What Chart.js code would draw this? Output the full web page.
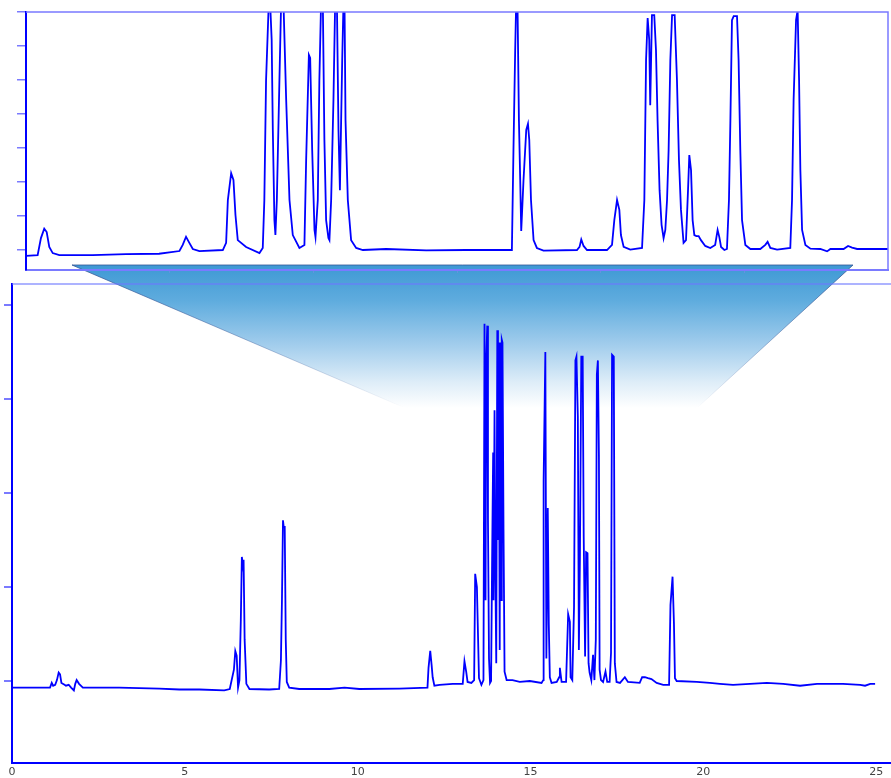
<!DOCTYPE html>
<html>
<head>
<meta charset="utf-8">
<script src="https://cdn.jsdelivr.net/npm/chart.js@4"></script>
<style>
html,body{margin:0;padding:0;background:#fff;width:891px;height:778px;overflow:hidden}
.wrap{position:absolute;left:0;top:0}
</style>
</head>
<body>
<div class="wrap" style="width:891px;height:778px"><canvas id="mainChart" width="891" height="778"></canvas></div>
<div class="wrap" style="width:891px;height:280px"><canvas id="insetChart" width="891" height="280"></canvas></div>
<script>
// ---- main chromatogram (retention time, min) ----
const mainTime = [0.00,0.49,1.10,1.15,1.19,1.25,1.30,1.35,1.39,1.43,
1.52,1.56,1.64,1.71,1.79,1.83,1.87,1.94,2.05,3.10,
4.26,4.84,5.42,6.14,6.30,6.42,6.46,6.50,6.54,6.58,
6.62,6.65,6.68,6.70,6.73,6.78,6.87,7.44,7.73,7.78,
7.81,7.84,7.86,7.89,7.92,7.95,8.02,8.31,9.18,9.62,
10.05,11.21,12.02,12.05,12.10,12.14,12.17,12.22,12.37,12.75,
13.04,13.09,13.14,13.18,13.29,13.37,13.40,13.45,13.51,13.58,
13.64,13.67,13.70,13.72,13.75,13.77,13.80,13.83,13.86,13.89,
13.92,13.93,13.96,13.98,14.01,14.04,14.06,14.08,14.11,14.12,
14.15,14.17,14.19,14.22,14.25,14.31,14.48,14.69,14.98,15.32,
15.37,15.38,15.43,15.46,15.50,15.53,15.56,15.61,15.76,15.83,
15.85,15.90,16.03,16.09,16.14,16.16,16.21,16.26,16.30,16.33,
16.37,16.40,16.43,16.47,16.51,16.54,16.58,16.61,16.65,16.68,
16.71,16.76,16.81,16.85,16.89,16.92,16.95,16.98,17.00,17.04,
17.10,17.17,17.22,17.29,17.33,17.36,17.41,17.44,17.49,17.59,
17.73,17.82,18.16,18.23,18.31,18.40,18.50,18.65,18.84,19.01,
19.05,19.11,19.15,19.18,19.23,19.81,20.19,20.48,20.86,21.35,
21.84,22.31,22.80,23.29,23.67,24.04,24.54,24.68,24.83,24.97];
const mainSignal = [-0.07,-0.07,-0.07,-0.02,-0.05,-0.04,0.01,0.09,0.07,-0.02,
-0.04,-0.05,-0.04,-0.07,-0.10,-0.03,0.01,-0.03,-0.07,-0.07,
-0.08,-0.09,-0.09,-0.10,-0.085,0.12,0.32,0.27,-0.07,0.01,
0.65,1.32,1.23,1.29,0.44,-0.03,-0.085,-0.09,-0.085,0.22,
0.86,1.71,1.64,1.64,0.44,-0.01,-0.07,-0.085,-0.085,-0.07,
-0.085,-0.08,-0.07,0.14,0.32,0.17,0.04,-0.05,-0.04,-0.03,
-0.03,0.21,0.10,-0.01,-0.02,0.01,1.14,1.00,0.03,-0.04,
0.01,3.80,0.86,3.41,3.78,1.71,0.24,-0.02,0.00,1.29,
2.43,0.86,2.88,1.29,0.19,3.73,1.50,3.60,0.33,3.60,
0.86,3.63,3.60,1.61,0.10,0.01,0.01,-0.01,0.00,-0.02,
0.01,2.13,3.50,0.24,1.84,0.60,0.04,-0.02,-0.01,0.04,
0.14,-0.01,-0.01,0.71,0.63,0.04,0.01,0.79,3.41,3.45,
2.81,0.33,1.29,3.45,3.45,1.53,0.26,1.37,1.36,0.19,
0.09,0.01,0.28,0.01,0.44,3.26,3.41,2.40,0.12,0.01,
-0.01,0.10,-0.01,-0.01,0.30,3.47,3.45,0.19,-0.01,-0.02,
0.04,-0.01,-0.02,0.04,0.04,0.03,0.02,-0.02,-0.04,-0.04,
0.81,1.11,0.62,0.03,0.00,-0.01,-0.02,-0.03,-0.04,-0.03,
-0.02,-0.03,-0.05,-0.03,-0.03,-0.03,-0.04,-0.05,-0.03,-0.03];

// ---- inset (expanded region 12-18 min, higher sensitivity) ----
const insetTime = [12.000,12.081,12.104,12.127,12.144,12.162,12.186,12.232,12.464,12.696,
12.926,13.068,13.091,13.114,13.137,13.161,13.207,13.370,13.393,13.405,
13.428,13.444,13.458,13.474,13.532,13.625,13.648,13.659,13.671,13.690,
13.699,13.710,13.718,13.729,13.736,13.746,13.764,13.776,13.792,13.811,
13.834,13.857,13.903,13.938,13.950,13.969,13.978,13.992,14.008,14.015,
14.031,14.042,14.054,14.066,14.077,14.089,14.105,14.112,14.124,14.140,
14.152,14.164,14.175,14.185,14.201,14.210,14.217,14.224,14.240,14.263,
14.298,14.345,14.507,14.786,15.064,15.382,15.393,15.405,15.412,15.421,
15.431,15.440,15.447,15.463,15.482,15.494,15.503,15.515,15.533,15.556,
15.602,15.835,15.853,15.865,15.881,15.905,16.044,16.079,16.095,16.114,
16.130,16.141,16.160,16.206,16.288,16.304,16.316,16.327,16.338,16.345,
16.357,16.373,16.385,16.396,16.410,16.424,16.438,16.450,16.462,16.473,
16.485,16.497,16.515,16.531,16.545,16.559,16.577,16.594,16.608,16.617,
16.629,16.640,16.652,16.666,16.682,16.698,16.728,16.763,16.797,16.814,
16.826,16.838,16.861,16.879,16.893,16.903,16.914,16.926,16.949,16.960,
16.972,16.984,17.007,17.042,17.111,17.146,17.162,17.181,17.228,17.320,
17.332,17.343,17.360,17.371,17.381,17.390,17.402,17.425,17.460,17.529,
17.576,17.599,17.691,17.722,17.750,17.785,18.000];
const insetSignal = [-0.17,-0.15,0.35,0.63,0.53,0.09,-0.09,-0.15,-0.15,-0.12,
-0.11,-0.03,0.15,0.39,0.21,0.03,-0.03,0.00,0.21,1.47,
2.26,2.06,1.03,0.29,0.09,-0.09,0.06,1.47,5.00,7.30,
7.30,6.18,3.53,0.88,0.44,1.47,5.00,7.30,7.30,4.41,
1.47,0.44,0.06,0.15,2.65,5.74,5.65,2.94,0.59,0.38,
1.47,5.00,7.30,7.30,3.24,0.88,0.35,0.29,1.47,4.41,
7.30,7.30,3.53,1.76,5.59,7.30,7.30,3.82,1.47,0.29,
0.06,0.00,0.03,-0.01,0.00,0.00,2.94,5.88,7.30,7.30,
3.82,2.06,0.56,2.06,3.53,3.71,3.24,1.47,0.29,0.06,
-0.02,0.00,0.09,0.31,0.12,0.00,0.00,0.15,0.88,1.47,
1.18,0.44,0.09,0.01,0.06,1.47,5.59,6.82,6.18,4.26,
6.91,6.91,5.88,3.82,1.76,0.74,0.35,0.59,1.47,2.94,
5.59,6.91,6.91,5.00,2.65,1.18,0.21,0.29,1.76,2.79,
2.35,0.88,0.44,0.41,0.41,0.29,0.12,0.06,0.15,0.59,
0.38,0.09,0.00,0.03,1.47,3.82,6.76,6.88,6.88,5.59,
2.94,0.88,0.15,0.03,0.03,0.15,0.24,0.06,0.01,0.06,
1.47,4.41,6.76,7.06,5.00,2.35,0.59,0.15,0.04,0.03,
-0.04,0.03,0.03,0.12,0.07,0.03,0.03];

const mainXTicks = [0, 5, 10, 15, 20, 25];
const mainYTicks = [0, 1, 2, 3, 4];
const insetXTicks = [13, 14, 15, 16, 17];
const insetYTicks = [0, 1, 2, 3, 4, 5, 6, 7];

const BLUE = '#0000ff';
const LIGHT = '#7a7aff';

const toPts = (xs, ys) => xs.map((x, i) => ({x: x, y: ys[i]}));

const zoomPlugin = {
  id: 'zoomShape',
  beforeDatasetsDraw(chart) {
    const ctx = chart.ctx;
    const ca = chart.chartArea;
    ctx.save();
    const g = ctx.createLinearGradient(0, 265, 0, 408);
    g.addColorStop(0, 'rgb(62,152,212)');
    g.addColorStop(0.25, 'rgb(95,172,222)');
    g.addColorStop(0.55, 'rgb(160,204,236)');
    g.addColorStop(0.82, 'rgb(222,237,248)');
    g.addColorStop(1, 'rgb(255,255,255)');
    ctx.beginPath();
    ctx.moveTo(72, 265);
    ctx.lineTo(853, 265);
    ctx.lineTo(697, 408);
    ctx.lineTo(405, 408);
    ctx.closePath();
    ctx.fillStyle = g;
    ctx.fill();
    const sg = ctx.createLinearGradient(0, 265, 0, 408);
    sg.addColorStop(0, 'rgba(50,85,150,0.8)');
    sg.addColorStop(0.6, 'rgba(50,85,150,0.35)');
    sg.addColorStop(1, 'rgba(50,85,150,0)');
    ctx.strokeStyle = sg;
    ctx.lineWidth = 1;
    ctx.beginPath();
    ctx.moveTo(405, 408);
    ctx.lineTo(72, 265);
    ctx.lineTo(853, 265);
    ctx.lineTo(697, 408);
    ctx.stroke();
    // top frame line of main plot
    ctx.strokeStyle = 'rgba(110,120,255,0.75)';
    ctx.lineWidth = 1.5;
    ctx.beginPath();
    ctx.moveTo(ca.left, ca.top);
    ctx.lineTo(ca.right, ca.top);
    ctx.stroke();
    ctx.restore();
  }
};

new Chart(document.getElementById('mainChart'), {
  type: 'scatter',
  data: {
    datasets: [{
      data: toPts(mainTime, mainSignal),
      showLine: true,
      borderColor: BLUE,
      borderWidth: 1.8,
      pointRadius: 0,
      fill: false,
      tension: 0,
      clip: 2
    }]
  },
  options: {
    responsive: false,
    animation: false,
    layout: {padding: {top: 284, right: 0, left: 0, bottom: 0}},
    plugins: {legend: {display: false}, tooltip: {enabled: false}},
    scales: {
      x: {
        type: 'linear', position: 'bottom', min: 0, max: 25.43,
        afterBuildTicks: s => { s.ticks = mainXTicks.map(v => ({value: v})); },
        afterFit: s => { s.height = 15; },
        ticks: {color: '#444', font: {family: 'DejaVu Sans', size: 11}, padding: 3, maxRotation: 0, autoSkip: false},
        grid: {drawOnChartArea: false, drawTicks: false},
        border: {display: true, color: BLUE, width: 2}
      },
      y: {
        type: 'linear', position: 'left', min: -0.872, max: 4.223,
        afterBuildTicks: s => { s.ticks = mainYTicks.map(v => ({value: v})); },
        afterFit: s => { s.width = 12; },
        ticks: {display: false},
        grid: {drawOnChartArea: false, drawTicks: true, tickLength: 8, color: LIGHT, lineWidth: 2},
        border: {display: true, color: BLUE, width: 2}
      }
    }
  },
  plugins: [zoomPlugin]
});

const insetFrame = {
  id: 'insetFrame',
  afterDraw(chart) {
    const ctx = chart.ctx;
    const ca = chart.chartArea;
    ctx.save();
    ctx.strokeStyle = LIGHT;
    ctx.lineWidth = 1.5;
    ctx.beginPath();
    ctx.moveTo(ca.left, ca.top);
    ctx.lineTo(ca.right, ca.top);
    ctx.lineTo(ca.right, ca.bottom + 1);
    ctx.stroke();
    ctx.restore();
  }
};

new Chart(document.getElementById('insetChart'), {
  type: 'scatter',
  data: {
    datasets: [{
      data: toPts(insetTime, insetSignal),
      showLine: true,
      borderColor: BLUE,
      borderWidth: 1.8,
      pointRadius: 0,
      fill: false,
      tension: 0,
      clip: 0
    }]
  },
  options: {
    responsive: false,
    animation: false,
    layout: {padding: {top: 12, right: 3, left: 0, bottom: 0}},
    plugins: {legend: {display: false}, tooltip: {enabled: false}},
    scales: {
      x: {
        type: 'linear', position: 'bottom', min: 12, max: 18,
        afterBuildTicks: s => { s.ticks = insetXTicks.map(v => ({value: v})); },
        afterFit: s => { s.height = 10; },
        ticks: {display: false},
        grid: {drawOnChartArea: false, drawTicks: true, tickLength: 3, color: 'rgba(120,140,230,0.6)', lineWidth: 1},
        border: {display: true, color: LIGHT, width: 2}
      },
      y: {
        type: 'linear', position: 'left', min: -0.588, max: 7,
        afterBuildTicks: s => { s.ticks = insetYTicks.map(v => ({value: v})); },
        afterFit: s => { s.width = 26; },
        ticks: {display: false},
        grid: {drawOnChartArea: false, drawTicks: true, tickLength: 9, color: LIGHT, lineWidth: 1.5},
        border: {display: true, color: BLUE, width: 2}
      }
    }
  },
  plugins: [insetFrame]
});
</script>
</body>
</html>
